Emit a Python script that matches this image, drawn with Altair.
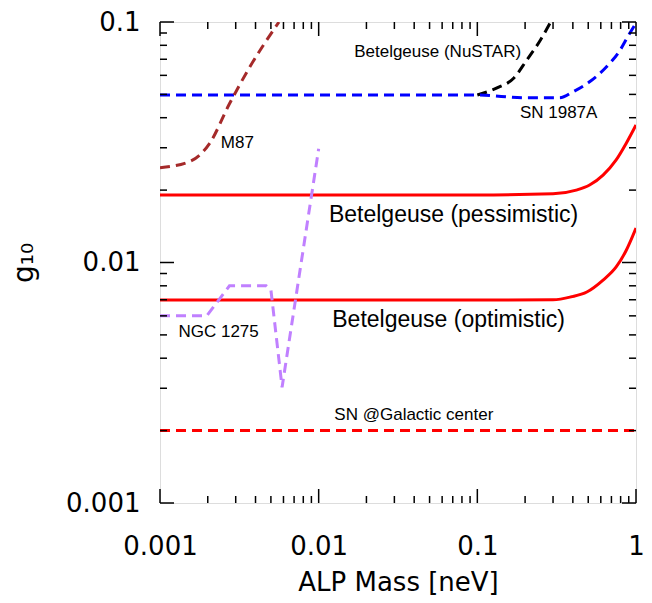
import altair as alt
import pandas as pd

# ---------------- data ----------------
pess_x = [0.001, 0.1, 0.3, 0.42, 0.51, 0.62, 0.75, 0.87, 1.0]
pess_y = [0.0191, 0.0191, 0.0193, 0.0200, 0.0210, 0.0231, 0.0267, 0.0314, 0.0373]

opt_x = [0.001, 0.1, 0.3, 0.39, 0.49, 0.62, 0.75, 0.87, 1.0]
opt_y = [0.00698, 0.00698, 0.0070, 0.0072, 0.00754, 0.00845, 0.00958, 0.01127, 0.0139]

gc_x = [0.001, 1.0]
gc_y = [0.002, 0.002]

sn87_x = [0.001, 0.1, 0.2, 0.33, 0.40, 0.51, 0.65, 0.78, 0.90, 1.0]
sn87_y = [0.0497, 0.0497, 0.0484, 0.0484, 0.0512, 0.0564, 0.065, 0.075, 0.0883, 0.099]

nustar_x = [0.1, 0.133, 0.17, 0.205, 0.25, 0.29]
nustar_y = [0.0497, 0.0532, 0.0585, 0.0695, 0.0842, 0.1]

m87_x = [0.001, 0.00154, 0.00205, 0.00274, 0.00365, 0.00562]
m87_y = [0.0248, 0.0263, 0.0312, 0.0457, 0.0644, 0.1]

ngc_x = [0.001, 0.00197, 0.00274, 0.00467, 0.005, 0.00588, 0.01]
ngc_y = [0.006, 0.006, 0.008, 0.008, 0.0077, 0.00303, 0.0297]

label_text = ["Betelgeuse (NuSTAR)", "SN 1987A", "M87", "NGC 1275",
              "Betelgeuse (pessimistic)", "Betelgeuse (optimistic)", "SN @Galactic center"]
label_x = [0.0562, 0.3255, 0.00307, 0.00234, 0.0708, 0.0659, 0.0398]
label_y = [0.075, 0.0418, 0.0314, 0.00514, 0.01576, 0.00577, 0.00232]
label_size = [17, 17, 17, 17, 23, 23, 17]

x_major = [0.001, 0.01, 0.1, 1.0]
y_major = [0.001, 0.01, 0.1]
minor_mult = [2, 3, 4, 5, 6, 7, 8, 9]
x_decades = [0.001, 0.01, 0.1]
y_decades = [0.001, 0.01]

W, H = 476, 481

xs = alt.Scale(type="log", domain=[0.001, 1], nice=False)
ys = alt.Scale(type="log", domain=[0.001, 0.1], nice=False)

FONT_AX = "DejaVu Sans"

x_axis = alt.Axis(values=x_major, title="ALP Mass [neV]", grid=False, ticks=False, tickSize=0,
                  domain=False, labelFont=FONT_AX, labelFontSize=26, labelFontWeight="normal",
                  labelColor="black", labelPadding=30, labelFlush=False, labelOverlap=False,
                  labelExpr="datum.value >= 1 ? '1' : format(datum.value, '~g')",
                  titleFont=FONT_AX, titleFontSize=26, titleFontWeight="normal",
                  titleColor="black", titlePadding=10)
y_axis = alt.Axis(values=y_major, title="g₁₀", grid=False, ticks=False, tickSize=0,
                  domain=False, labelFont=FONT_AX, labelFontSize=26, labelFontWeight="normal",
                  labelColor="black", labelPadding=20, labelFlush=False, labelOverlap=False,
                  labelExpr="format(datum.value, '~g')",
                  titleFont=FONT_AX, titleFontSize=28, titleFontWeight="normal",
                  titleColor="black", titlePadding=27)


def X(field):
    return alt.X(field, scale=xs, axis=x_axis)


def Y(field):
    return alt.Y(field, scale=ys, axis=y_axis)


def series(xv, yv, color, dash=None, width=3, interp="linear"):
    df = pd.DataFrame({"x": xv, "y": yv})
    kw = dict(color=color, strokeWidth=width, clip=True, interpolate=interp)
    if dash:
        kw["strokeDash"] = dash
    return alt.Chart(df).mark_line(**kw).encode(x=X("x:Q"), y=Y("y:Q"))


dash = [10, 6]
layers = [
    series(pess_x, pess_y, "#ff0000", interp="monotone"),
    series(opt_x, opt_y, "#ff0000", interp="monotone"),
    series(gc_x, gc_y, "#ff0000", dash),
    series(nustar_x, nustar_y, "#000000", dash, interp="monotone"),
    series(sn87_x, sn87_y, "#0000ff", dash, interp="monotone"),
    series(m87_x, m87_y, "#a52a2a", dash, interp="monotone"),
    series(ngc_x, ngc_y, "#c080ff", dash),
]

labels_df = pd.DataFrame({"t": label_text, "x": label_x, "y": label_y, "s": label_size})
labels = alt.Chart(labels_df).mark_text(font="Liberation Sans", color="black",
                                        align="center", baseline="middle").encode(
    x=X("x:Q"), y=Y("y:Q"),
    text="t:N",
    size=alt.Size("s:Q", scale=None, legend=None),
)

# tick marks (inward, mirrored on all sides)
x_minor = [m * d for d in x_decades for m in minor_mult]
y_minor = [m * d for d in y_decades for m in minor_mult]
xmaj_df = pd.DataFrame({"x": x_major})
xmin_df = pd.DataFrame({"x": x_minor})
ymaj_df = pd.DataFrame({"y": y_major})
ymin_df = pd.DataFrame({"y": y_minor})


def xticks(df, length):
    base = alt.Chart(df).mark_rule(color="black", strokeWidth=1.5)
    bot = base.encode(x=X("x:Q"), y=alt.value(H), y2=alt.value(H - length))
    top = base.encode(x=X("x:Q"), y=alt.value(0), y2=alt.value(length))
    return [bot, top]


def yticks(df, length):
    base = alt.Chart(df).mark_rule(color="black", strokeWidth=1.5)
    lef = base.encode(y=Y("y:Q"), x=alt.value(0), x2=alt.value(length))
    rig = base.encode(y=Y("y:Q"), x=alt.value(W), x2=alt.value(W - length))
    return [lef, rig]


ticks = xticks(xmaj_df, 14) + xticks(xmin_df, 7) + yticks(ymaj_df, 14) + yticks(ymin_df, 7)

chart = alt.layer(*layers, labels, *ticks).properties(
    width=W, height=H,
    autosize=alt.AutoSizeParams(type="none"),
    padding={"left": 152, "top": 14, "right": 8, "bottom": 92},
).configure_view(stroke="black", strokeWidth=2).configure(background="white")

chart.save("out.html", embed_options={"renderer": "svg", "actions": False})
